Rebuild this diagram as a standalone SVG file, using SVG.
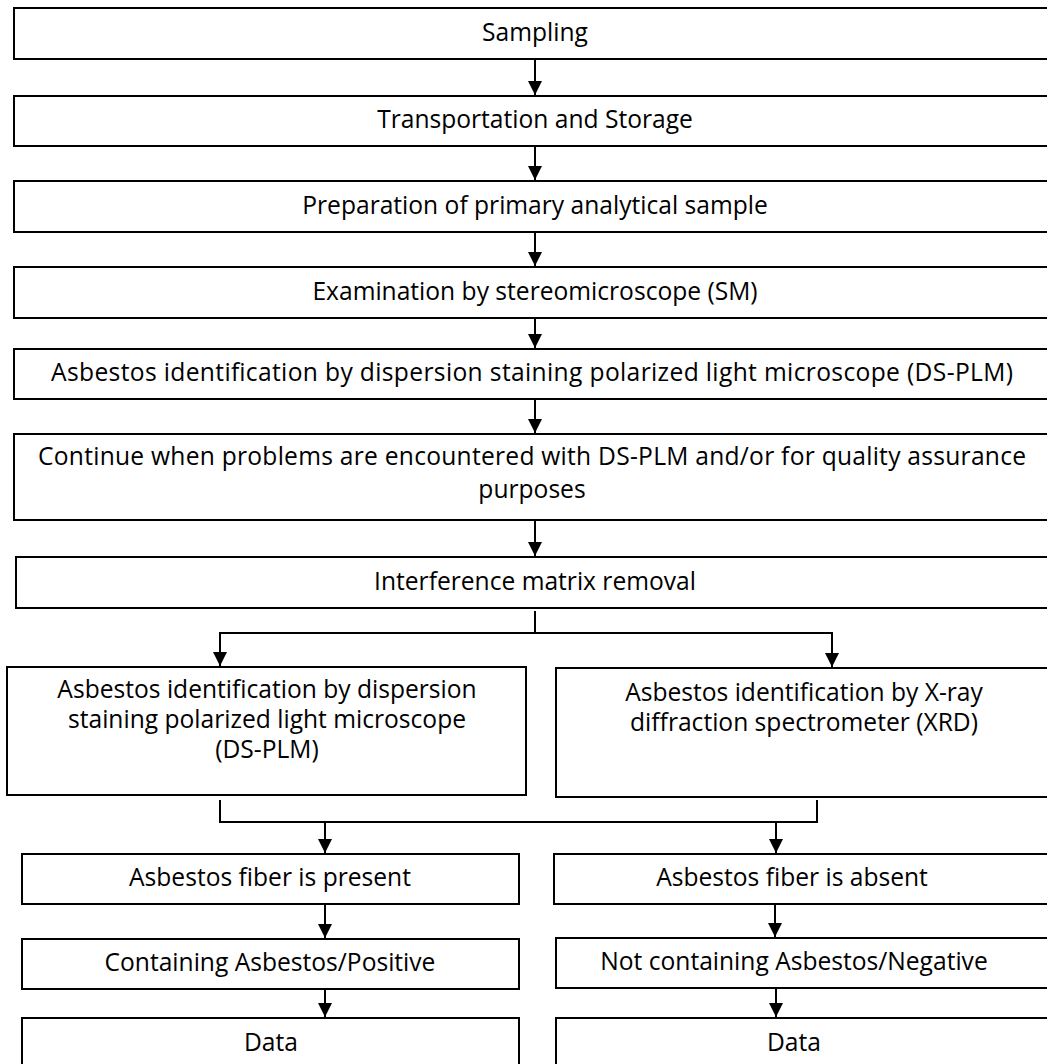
<svg xmlns="http://www.w3.org/2000/svg" width="1047" height="1064" viewBox="0 0 1047 1064">
<style>
.box{fill:#fff;stroke:#000;stroke-width:2}
.t{font-family:"Open Sans","Noto Sans","DejaVu Sans",sans-serif;font-size:24.6px;fill:#000;text-anchor:middle}
.c{fill:none;stroke:#000;stroke-width:2}
</style>
<defs>
<marker id="ah" viewBox="0 0 10 10" refX="10" refY="5" markerWidth="7" markerHeight="7" orient="auto" markerUnits="strokeWidth"><path d="M0,0 L10,5 L0,10 z" fill="#000"/></marker>
</defs>
<rect width="1047" height="1064" fill="#fff"/>
<g id="connectors">
<line class="c" x1="535" y1="59" x2="535" y2="95" marker-end="url(#ah)"/>
<line class="c" x1="535" y1="146" x2="535" y2="180" marker-end="url(#ah)"/>
<line class="c" x1="535" y1="232" x2="535" y2="266" marker-end="url(#ah)"/>
<line class="c" x1="535" y1="318" x2="535" y2="348" marker-end="url(#ah)"/>
<line class="c" x1="535" y1="399" x2="535" y2="433" marker-end="url(#ah)"/>
<line class="c" x1="535" y1="521" x2="535" y2="556" marker-end="url(#ah)"/>
<line class="c" x1="535" y1="611" x2="535" y2="633"/>
<path class="c" d="M220,661 V633 H832 V661" />
<line class="c" x1="220" y1="633" x2="220" y2="666" marker-end="url(#ah)"/>
<line class="c" x1="832" y1="633" x2="832" y2="667" marker-end="url(#ah)"/>
<path class="c" d="M220,800 V822 H817 V800"/>
<line class="c" x1="325" y1="822" x2="325" y2="853" marker-end="url(#ah)"/>
<line class="c" x1="776" y1="822" x2="776" y2="853" marker-end="url(#ah)"/>
<line class="c" x1="325" y1="905" x2="325" y2="938" marker-end="url(#ah)"/>
<line class="c" x1="775" y1="905" x2="775" y2="937" marker-end="url(#ah)"/>
<line class="c" x1="325" y1="989" x2="325" y2="1017" marker-end="url(#ah)"/>
<line class="c" x1="776" y1="988" x2="776" y2="1017" marker-end="url(#ah)"/>
</g>
<g id="sampling"><rect class="box" x="14" y="8" width="1050" height="51"/><text class="t" x="535" y="41">Sampling</text></g>
<g id="transport"><rect class="box" x="14" y="96" width="1050" height="50"/><text class="t" x="535" y="128">Transportation and Storage</text></g>
<g id="preparation"><rect class="box" x="14" y="181" width="1050" height="51"/><text class="t" x="535" y="214">Preparation of primary analytical sample</text></g>
<g id="sm"><rect class="box" x="14" y="267" width="1050" height="51"/><text class="t" x="535" y="300">Examination by stereomicroscope (SM)</text></g>
<g id="dsplm1"><rect class="box" x="14" y="349" width="1050" height="50"/><text class="t" x="532" y="381" textLength="962" lengthAdjust="spacing">Asbestos identification by dispersion staining polarized light microscope (DS-PLM)</text></g>
<g id="continue"><rect class="box" x="14" y="434" width="1050" height="86"/><text class="t" x="532" y="465" textLength="988" lengthAdjust="spacing">Continue when problems are encountered with DS-PLM and/or for quality assurance</text><text class="t" x="532" y="498">purposes</text></g>
<g id="interference"><rect class="box" x="16" y="557" width="1050" height="51"/><text class="t" x="535" y="590">Interference matrix removal</text></g>
<g id="dsplm2"><rect class="box" x="7" y="667" width="519" height="128"/><text class="t" x="267" y="698">Asbestos identification by dispersion</text><text class="t" x="267" y="728">staining polarized light microscope</text><text class="t" x="267" y="758">(DS-PLM)</text></g>
<g id="xrd"><rect class="box" x="556" y="668" width="510" height="129"/><text class="t" x="804" y="701">Asbestos identification by X-ray</text><text class="t" x="804" y="731">diffraction spectrometer (XRD)</text></g>
<g id="present"><rect class="box" x="22" y="854" width="497" height="50"/><text class="t" x="270" y="886">Asbestos fiber is present</text></g>
<g id="absent"><rect class="box" x="554" y="854" width="510" height="50"/><text class="t" x="792" y="886">Asbestos fiber is absent</text></g>
<g id="positive"><rect class="box" x="22" y="939" width="497" height="50"/><text class="t" x="270" y="971">Containing Asbestos/Positive</text></g>
<g id="negative"><rect class="box" x="556" y="938" width="510" height="50"/><text class="t" x="794" y="970">Not containing Asbestos/Negative</text></g>
<g id="data1"><rect class="box" x="22" y="1018" width="497" height="60"/><text class="t" x="271" y="1051">Data</text></g>
<g id="data2"><rect class="box" x="556" y="1018" width="510" height="60"/><text class="t" x="794" y="1051">Data</text></g>
</svg>
